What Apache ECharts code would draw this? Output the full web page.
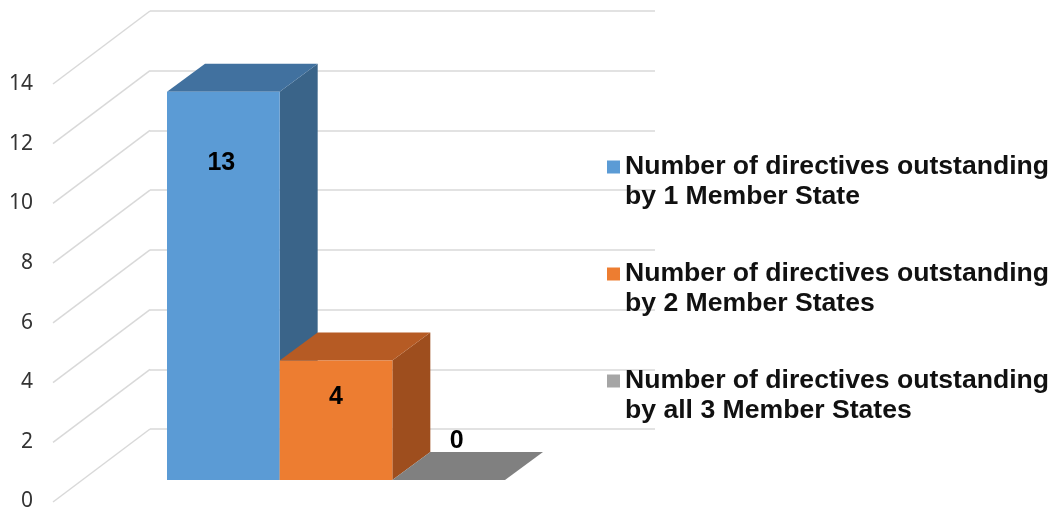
<!DOCTYPE html>
<html>
<head>
<meta charset="utf-8">
<script src="https://cdn.jsdelivr.net/npm/echarts@6/dist/echarts.min.js"></script>
<style>
  html, body { margin: 0; padding: 0; background: #ffffff; }
  #chart { width: 1056px; height: 512px; }
</style>
</head>
<body>
<div id="chart"></div>
<script>
// Series shown in the legend, one column each
const seriesNames = [
  'Number of directives outstanding\nby 1 Member State',
  'Number of directives outstanding\nby 2 Member States',
  'Number of directives outstanding\nby all 3 Member States'
];
const seriesValues = [13, 4, 0];

// Value axis
const axisMin = 0;
const axisMax = 14;
const axisStep = 2;
const axisTicks = [0, 2, 4, 6, 8, 10, 12, 14];

// Shading of each box: front, top, side
const boxColors = [
  { front: '#5B9BD5', top: '#41719F', side: '#3A6489', legend: '#5B9BD5' },
  { front: '#ED7D31', top: '#B65B24', side: '#9E4E1E', legend: '#ED7D31' },
  { front: '#A5A5A5', top: '#808080', side: '#707070', legend: '#A5A5A5' }
];

// Oblique projection: side wall runs from the back wall toward the viewer
const WALL_DX = -97, WALL_DY = 73;
// Depth of each column box
const BOX_DX = 38, BOX_DY = -28;
// Value-label placement relative to the top edge of each box
const labelShift = [
  { dx: -2, dy: 71 },
  { dx: 0, dy: 37 },
  { dx: 8, dy: -39 }
];

const chart = echarts.init(document.getElementById('chart'), null, { renderer: 'canvas' });

function boxRenderer(idx) {
  return function (params, api) {
    const cat = api.value(0);
    const val = api.value(1);
    const base = api.coord([cat, 0]);
    const top = api.coord([cat, val]);
    const w = api.size([1, 0])[0];
    const x0 = base[0] - w / 2;
    const x1 = x0 + w;
    const yb = base[1];
    const yt = top[1];
    const c = boxColors[idx];
    const children = [];
    // side face
    if (yb - yt > 0) {
      children.push({
        type: 'polygon',
        shape: { points: [[x1, yt], [x1 + BOX_DX, yt + BOX_DY], [x1 + BOX_DX, yb + BOX_DY], [x1, yb]] },
        style: { fill: c.side }
      });
    }
    // top face
    children.push({
      type: 'polygon',
      shape: { points: [[x0, yt], [x1, yt], [x1 + BOX_DX, yt + BOX_DY], [x0 + BOX_DX, yt + BOX_DY]] },
      style: { fill: c.top }
    });
    // front face
    if (yb - yt > 0) {
      children.push({
        type: 'rect',
        shape: { x: x0, y: yt, width: w, height: yb - yt },
        style: { fill: c.front }
      });
    }
    const ls = labelShift[idx];
    children.push({
      type: 'text',
      style: {
        text: String(val),
        x: (x0 + x1) / 2 + ls.dx,
        y: yt + ls.dy,
        align: 'center',
        verticalAlign: 'middle',
        font: 'bold 25px "Liberation Sans", Arial, sans-serif',
        fill: '#000000'
      },
      z2: 10
    });
    return { type: 'group', children: children };
  };
}

const barSeries = seriesNames.map(function (name, i) {
  return {
    name: name,
    type: 'custom',
    xAxisIndex: 2,
    yAxisIndex: 2,
    itemStyle: { color: boxColors[i].legend },
    renderItem: boxRenderer(i),
    data: [[i, seriesValues[i]]],
    z: 5 + i,
    silent: true
  };
});

const option = {
  backgroundColor: '#ffffff',
  animation: false,
  grid: [
    // back wall
    { left: 150, top: 11, width: 505, height: 418 },
    // front edge carrying the tick labels
    { left: 53, top: 84, width: 10, height: 418 },
    // front plane of the columns
    { left: 167, top: 62, width: 338, height: 418 }
  ],
  xAxis: [
    { gridIndex: 0, type: 'value', min: 0, max: 1, show: false },
    { gridIndex: 1, type: 'value', min: 0, max: 1, show: false },
    { gridIndex: 2, type: 'category', data: seriesNames, show: false, boundaryGap: true }
  ],
  yAxis: [
    {
      gridIndex: 0, type: 'value', min: axisMin, max: axisMax, interval: axisStep,
      axisLine: { show: false }, axisTick: { show: false }, axisLabel: { show: false },
      splitLine: { show: true, lineStyle: { color: '#D9D9D9', width: 1.5 } }
    },
    {
      gridIndex: 1, type: 'value', min: axisMin, max: axisMax, interval: axisStep,
      axisLine: { show: false }, axisTick: { show: false }, splitLine: { show: false },
      axisLabel: {
        show: true, margin: 20, color: '#333333', fontSize: 21,
        fontFamily: '"Noto Sans", "Open Sans", sans-serif'
      }
    },
    {
      gridIndex: 2, type: 'value', min: axisMin, max: axisMax, interval: axisStep, show: false
    }
  ],
  legend: {
    orient: 'vertical',
    left: 607,
    top: 122,
    padding: 0,
    itemGap: 17,
    itemWidth: 13,
    itemHeight: 13,
    icon: 'rect',
    data: seriesNames,
    selectedMode: false,
    // leading blank line keeps the marker beside the first text line
    formatter: function (name) { return '\n' + name; },
    textStyle: {
      fontSize: 26.6,
      fontWeight: 'bold',
      lineHeight: 30,
      fontFamily: '"Liberation Sans", Arial, sans-serif',
      color: '#111111'
    }
  },
  series: [
    {
      name: 'wall-edges',
      type: 'custom',
      xAxisIndex: 0,
      yAxisIndex: 0,
      silent: true,
      z: 1,
      renderItem: function (params, api) {
        const p = api.coord([0, api.value(0)]);
        return {
          type: 'line',
          shape: { x1: p[0], y1: p[1], x2: p[0] + WALL_DX, y2: p[1] + WALL_DY },
          style: { stroke: '#D9D9D9', lineWidth: 1.5 }
        };
      },
      data: axisTicks.map(function (t) { return [t]; })
    }
  ].concat(barSeries)
};

chart.setOption(option);
</script>
</body>
</html>
